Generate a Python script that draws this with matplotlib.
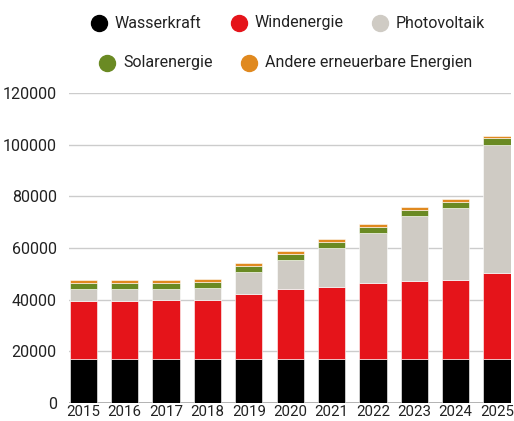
import matplotlib
matplotlib.use("Agg")
import matplotlib.pyplot as plt
import numpy as np

years = ["2015", "2016", "2017", "2018", "2019", "2020", "2021", "2022", "2023", "2024", "2025"]
wasserkraft = [16800, 16800, 16800, 17000, 17000, 17000, 17000, 17000, 17000, 17000, 17000]
windenergie = [22700, 22700, 23100, 22900, 25200, 27100, 27900, 29400, 30200, 30600, 33300]
photovoltaik = [4600, 4600, 4200, 4600, 8500, 11200, 15000, 19300, 25200, 27900, 49800]
solarenergie = [2300, 2300, 2300, 2300, 2300, 2400, 2300, 2400, 2300, 2300, 2500]
andere = [1100, 1100, 1100, 1100, 1200, 1300, 1400, 1300, 1300, 1300, 1000]

series_names = ["Wasserkraft", "Windenergie", "Photovoltaik", "Solarenergie", "Andere erneuerbare Energien"]
series_vals = [wasserkraft, windenergie, photovoltaik, solarenergie, andere]
colors = ["#000000", "#e5141a", "#cfcbc4", "#6a8a23", "#e0891f"]
yticks = [0, 20000, 40000, 60000, 80000, 100000, 120000]

plt.rcParams['font.family'] = ['Roboto', 'DejaVu Sans']
text_color = "#222222"

fig = plt.figure(figsize=(5.14, 4.21), dpi=100)
ax = fig.add_axes([69.3/514, 18.3/421, (511-69.3)/514, (402.7-93.3)/421])

x = np.arange(len(years))
bottom = np.zeros(len(years))
for vals, c in zip(series_vals, colors):
    ax.bar(x, vals, bottom=bottom, width=0.66, color=c, edgecolor="white", linewidth=0.4, zorder=3)
    bottom += np.array(vals)

ax.set_xlim(-0.34, len(years) - 1 + 0.34)
ax.set_ylim(0, 120000)
ax.set_yticks(yticks)
ax.set_yticklabels([str(v) for v in yticks])
ax.set_xticks(x)
ax.set_xticklabels(years)
ax.yaxis.grid(True, color="#cccccc", linewidth=1.0, zorder=0)
ax.set_axisbelow(True)
for s in ax.spines.values():
    s.set_visible(False)
ax.axhline(0, color="#a8a8a8", linewidth=1.2, zorder=2)
ax.tick_params(axis="y", length=0, pad=9, labelsize=11.5, labelcolor=text_color)
ax.tick_params(axis="x", length=0, pad=2, labelsize=10.8, labelcolor=text_color)

# legend (manual, two rows)
marker_x = [99, 239, 380, 107, 249]
marker_y = [23, 23, 23, 63, 63]
for name, c, mx, my in zip(series_names, colors, marker_x, marker_y):
    fig.lines.append(plt.Line2D([mx/514], [1 - my/421], marker="o", markersize=11.5,
                                color=c, linestyle="none", transform=fig.transFigure))
    fig.text((mx + 16)/514, 1 - my/421, name, ha="left", va="center",
             fontsize=11.5, color=text_color)

fig.savefig("out.png", dpi=100, facecolor="white")
